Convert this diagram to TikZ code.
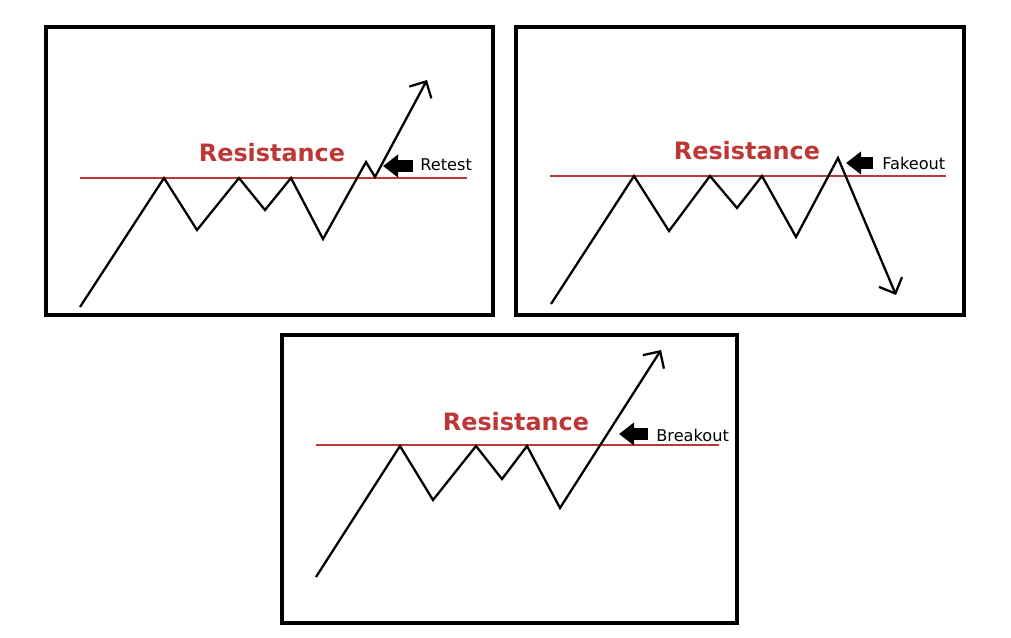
\documentclass[tikz,border=0pt]{standalone}
\usepackage{fontspec}
\setmainfont{DejaVu Sans}
\usetikzlibrary{arrows.meta}
\definecolor{resred}{RGB}{190,55,55}

\begin{document}
\begin{tikzpicture}[x=0.02cm,y=-0.02cm,
  every node/.style={font=\fontsize{9.2}{10}\selectfont,inner sep=0pt},
  frame/.style={line width=1.9pt},
  level/.style={draw=resred,line width=1.6pt},
  price/.style={line width=1.3pt,line join=miter},
  pricearrow/.style={price,-{Straight Barb[length=0.25cm,width=0.5cm]}},
  marker/.style={line width=0.24cm,-{Triangle[length=0.3cm,width=0.44cm]}},
  restext/.style={text=resred,font=\bfseries\fontsize{13.6}{15}\selectfont}]
\useasboundingbox (0,0) rectangle (1011,637);

% retest
\draw[frame] (46,27) rectangle (493,315);
\coordinate (L1a) at (80,178);
\coordinate (L1b) at (467,178);
\draw[level] (L1a) -- (L1b);
\node[restext] (R1) at (272,153) {Resistance};
\coordinate (A0) at (80,307);
\coordinate (A1) at (164,178);
\coordinate (A2) at (197,230);
\coordinate (A3) at (239,178);
\coordinate (A4) at (265,210);
\coordinate (A5) at (291,178);
\coordinate (A6) at (323,239);
\coordinate (A7) at (366,162);
\coordinate (A8) at (375,177);
\coordinate (A9) at (427,80);
\draw[pricearrow] (A0) -- (A1) -- (A2) -- (A3) -- (A4) -- (A5) -- (A6) -- (A7) -- (A8) -- (A9);
\node[anchor=west] (T1) at (420,165) {Retest};
\coordinate (M1s) at (413,166);
\coordinate (M1) at (383,166);
\draw[marker] (M1s) -- (M1);

% fakeout
\draw[frame] (516,27) rectangle (964,315);
\coordinate (L2a) at (550,176);
\coordinate (L2b) at (946,176);
\draw[level] (L2a) -- (L2b);
\node[restext] (R2) at (747,151) {Resistance};
\coordinate (B0) at (551,304);
\coordinate (B1) at (634,176);
\coordinate (B2) at (669,231);
\coordinate (B3) at (710,176);
\coordinate (B4) at (737,208);
\coordinate (B5) at (762,176);
\coordinate (B6) at (796,237);
\coordinate (B7) at (838,158);
\coordinate (B8) at (896,295);
\draw[pricearrow] (B0) -- (B1) -- (B2) -- (B3) -- (B4) -- (B5) -- (B6) -- (B7) -- (B8);
\node[anchor=west] (T2) at (882,163) {Fakeout};
\coordinate (M2s) at (873,163);
\coordinate (M2) at (846,163);
\draw[marker] (M2s) -- (M2);

% breakout
\draw[frame] (282,335) rectangle (737,623);
\coordinate (L3a) at (316,445);
\coordinate (L3b) at (719,445);
\draw[level] (L3a) -- (L3b);
\node[restext] (R3) at (516,422) {Resistance};
\coordinate (C0) at (316,577);
\coordinate (C1) at (400,446);
\coordinate (C2) at (433,500);
\coordinate (C3) at (476,446);
\coordinate (C4) at (502,479);
\coordinate (C5) at (527,446);
\coordinate (C6) at (560,508);
\coordinate (C7) at (661,350);
\draw[pricearrow] (C0) -- (C1) -- (C2) -- (C3) -- (C4) -- (C5) -- (C6) -- (C7);
\node[anchor=west] (T3) at (656,435) {Breakout};
\coordinate (M3s) at (648,434);
\coordinate (M3) at (619,434);
\draw[marker] (M3s) -- (M3);
\end{tikzpicture}
\end{document}
